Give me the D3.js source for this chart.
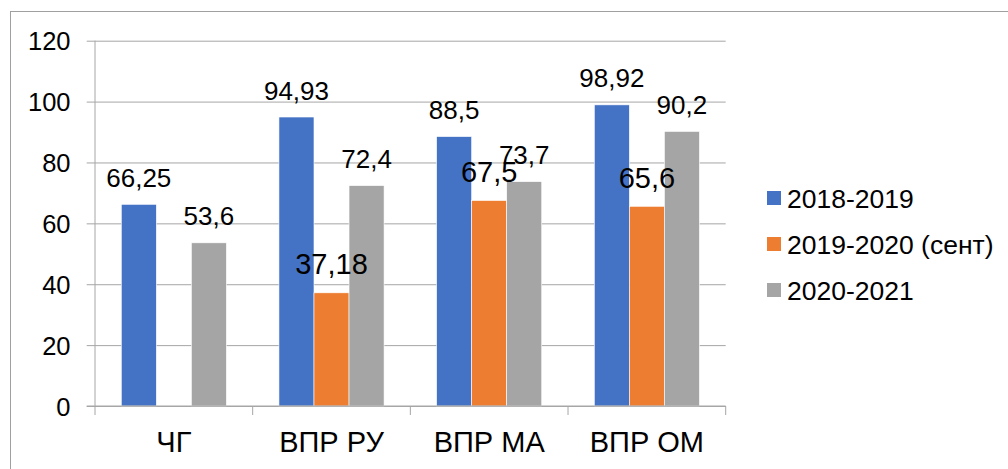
<!DOCTYPE html>
<html>
<head>
<meta charset="utf-8">
<script src="https://cdn.jsdelivr.net/npm/d3@7"></script>
<style>
  html, body { margin: 0; padding: 0; background: #fff; }
  svg { display: block; font-family: "Liberation Sans", Arial, sans-serif; }
</style>
</head>
<body>
<svg id="chart" width="1008" height="469"></svg>
<script>
const categories = ["ЧГ", "ВПР РУ", "ВПР МА", "ВПР ОМ"];
const seriesNames = ["2018-2019", "2019-2020 (сент)", "2020-2021"];
const values2018 = [66.25, 94.93, 88.5, 98.92];
const values2019 = [null, 37.18, 67.5, 65.6];
const values2020 = [53.6, 72.4, 73.7, 90.2];
const yTicks = [0, 20, 40, 60, 80, 100, 120];
const colors = ["#4472C4", "#ED7D31", "#A5A5A5"];

const seriesValues = [values2018, values2019, values2020];
const labelSizes = [26, 29, 26];

const svg = d3.select("#chart");
const plot = { left: 95, right: 725.7, top: 40.7, bottom: 406 };

// outer frame
svg.append("rect")
  .attr("x", 10.5).attr("y", 11.5)
  .attr("width", 1100).attr("height", 600)
  .attr("fill", "none").attr("stroke", "#a0a0a0").attr("stroke-width", 1);

const x0 = d3.scaleBand().domain(categories).range([plot.left, plot.right]).paddingInner(0).paddingOuter(0);
const bw = x0.bandwidth() / 4.5;
const x1 = d3.scaleBand().domain(d3.range(3)).range([0.75 * bw, 3.75 * bw]).padding(0);
const y = d3.scaleLinear().domain([0, 120]).range([plot.bottom, plot.top]);

// gridlines and y ticks
const yAxis = d3.axisLeft(y).tickValues(yTicks).tickSize(-(plot.right - plot.left)).tickSizeOuter(0).tickPadding(0).tickFormat(d => d);
const gy = svg.append("g").attr("transform", `translate(${plot.left},0)`).call(yAxis);
gy.select(".domain").remove();
gy.selectAll(".tick line").attr("stroke", "#a6a6a6").attr("stroke-width", 1).attr("x1", -8.3);
gy.selectAll(".tick text")
  .attr("x", -24.5).attr("dy", "0.36em")
  .attr("font-size", 25.5).attr("fill", "#000").attr("font-family", "Liberation Sans, Arial, sans-serif");

// y axis line
svg.append("line").attr("x1", plot.left).attr("x2", plot.left)
  .attr("y1", plot.top).attr("y2", plot.bottom).attr("stroke", "#a6a6a6");

// bars
seriesValues.forEach((vals, si) => {
  svg.append("g").selectAll("rect")
    .data(categories.map((c, i) => ({ c, v: vals[i] })).filter(d => d.v != null))
    .join("rect")
    .attr("x", d => x0(d.c) + x1(si))
    .attr("width", x1.bandwidth())
    .attr("y", d => y(d.v))
    .attr("height", d => y(0) - y(d.v))
    .attr("fill", colors[si])
    .attr("stroke", "#fff").attr("stroke-width", 0.6);
});

// x axis
const xAxis = d3.axisBottom(x0).tickSize(0).tickPadding(0);
const gx = svg.append("g").attr("transform", `translate(0,${plot.bottom})`).call(xAxis);
gx.select(".domain").remove();
gx.selectAll(".tick text")
  .attr("y", 46).attr("dy", 0)
  .attr("font-size", 29).attr("fill", "#000").attr("font-family", "Liberation Sans, Arial, sans-serif");
svg.append("line").attr("x1", plot.left - 8.3).attr("x2", plot.right)
  .attr("y1", plot.bottom).attr("y2", plot.bottom).attr("stroke", "#a6a6a6");
const bounds = categories.map(c => x0(c)).concat([plot.right]);
svg.append("g").selectAll("line").data(bounds).join("line")
  .attr("x1", d => d).attr("x2", d => d)
  .attr("y1", plot.bottom).attr("y2", plot.bottom + 9)
  .attr("stroke", "#a6a6a6");

// data labels
seriesValues.forEach((vals, si) => {
  svg.append("g").selectAll("text")
    .data(categories.map((c, i) => ({ c, v: vals[i] })).filter(d => d.v != null))
    .join("text")
    .attr("x", d => x0(d.c) + x1(si) + x1.bandwidth() / 2)
    .attr("y", d => y(d.v) - (si === 1 ? 18.5 : 17.5))
    .attr("text-anchor", "middle")
    .attr("font-size", labelSizes[si])
    .attr("fill", "#000")
    .text(d => String(d.v).replace(".", ","));
});

// legend
const legend = svg.append("g");
seriesNames.forEach((name, i) => {
  const cy = 198 + i * 46;
  legend.append("rect").attr("x", 767).attr("y", cy - 7).attr("width", 14).attr("height", 14).attr("fill", colors[i]);
  legend.append("text").attr("x", 787).attr("y", cy).attr("dy", "0.36em")
    .attr("font-size", 26.5).attr("fill", "#000").text(name);
});
</script>
</body>
</html>
